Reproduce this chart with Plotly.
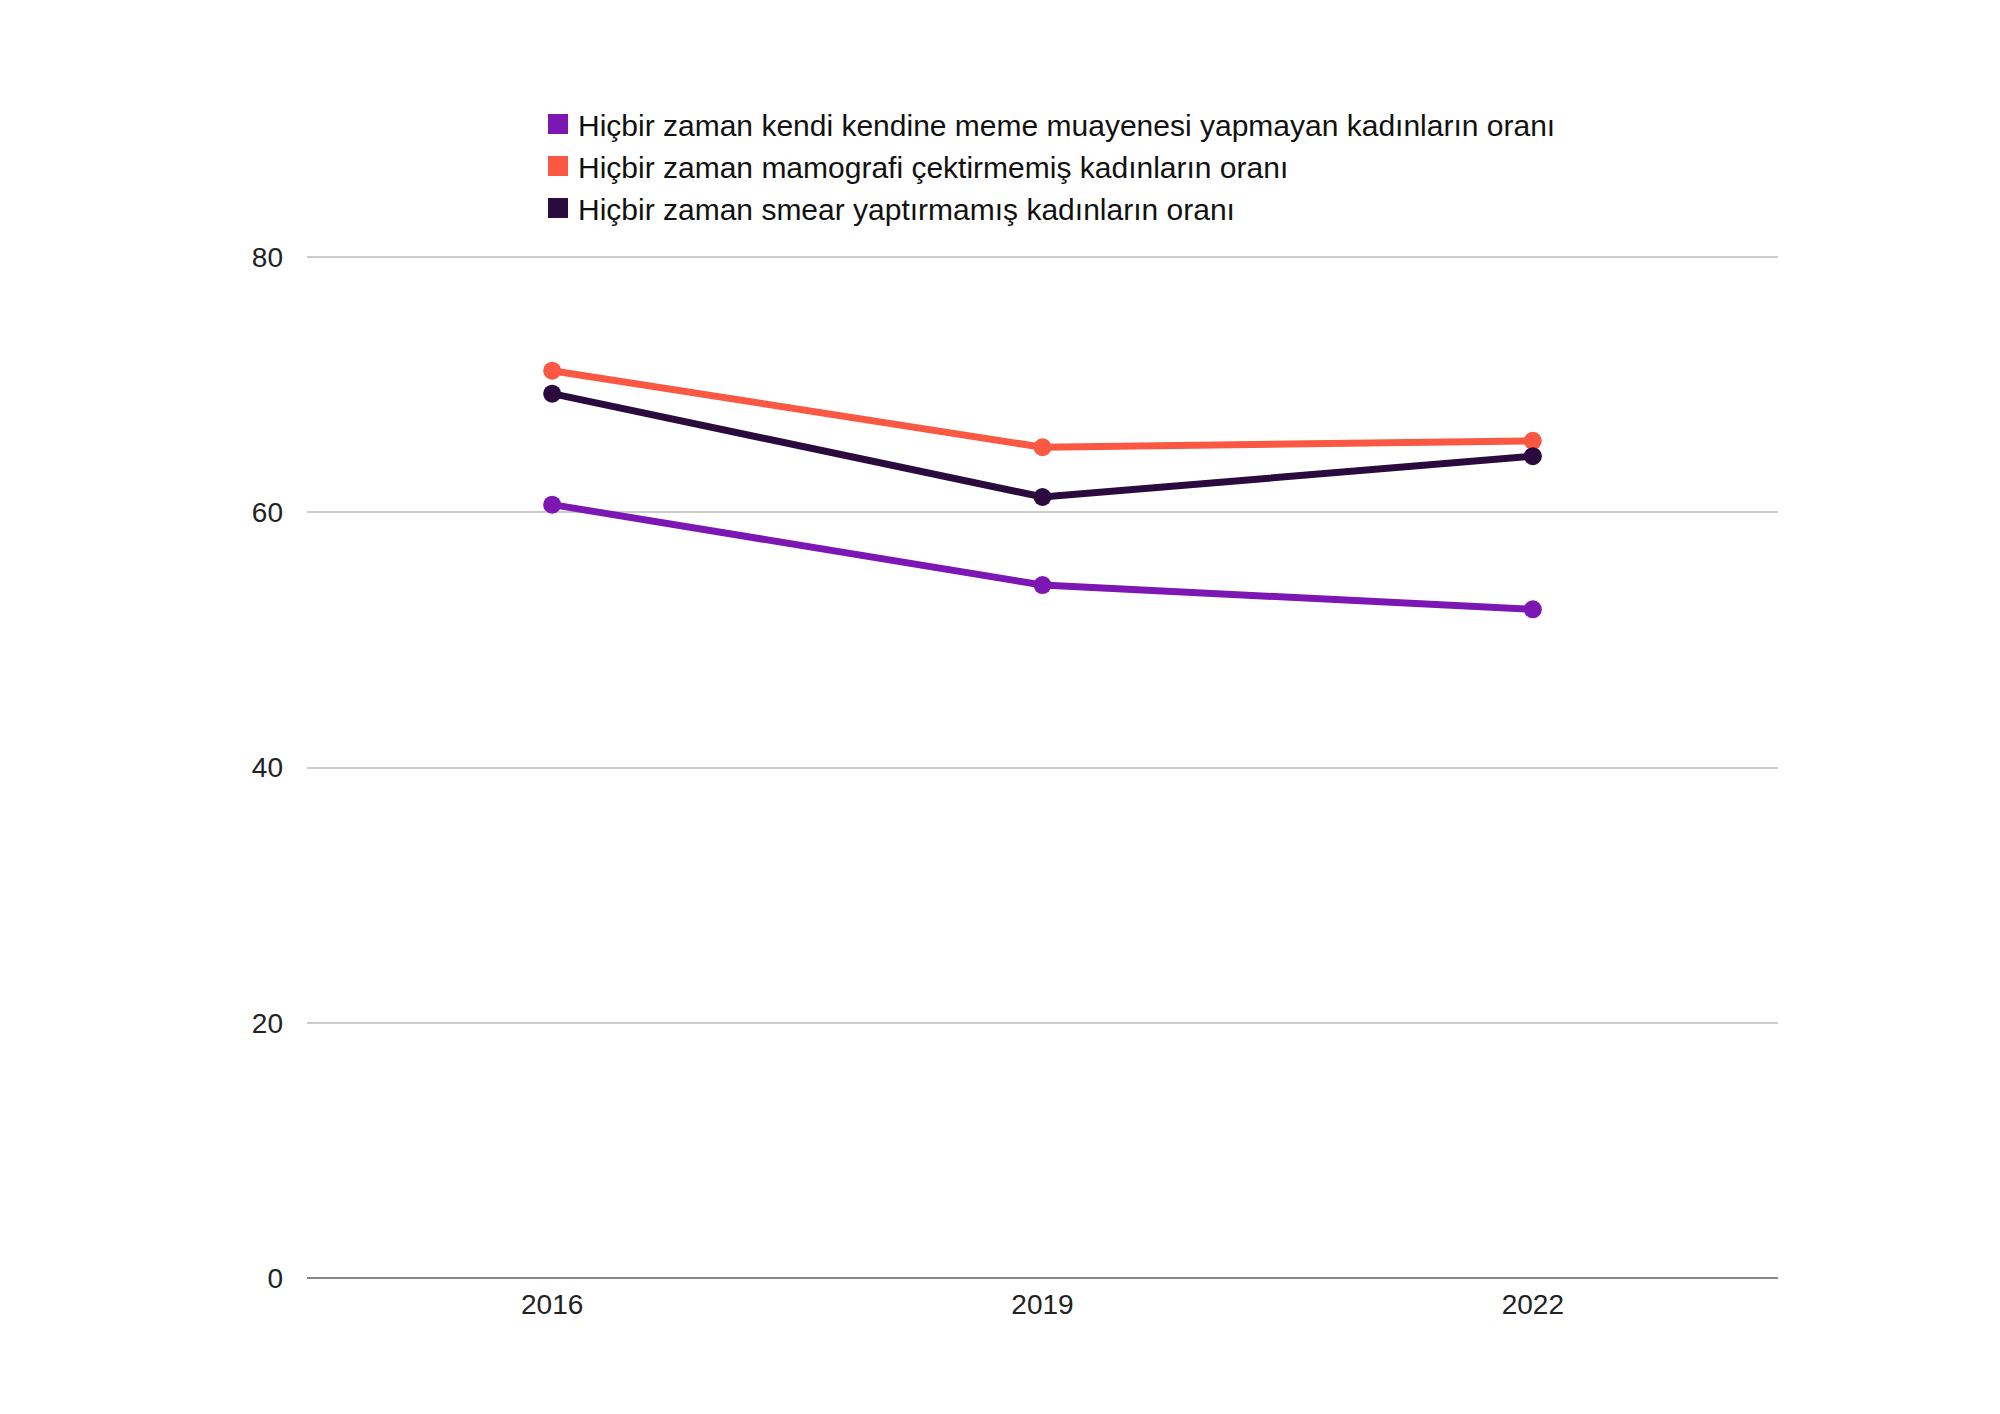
import plotly.graph_objects as go

years = ["2016", "2019", "2022"]
series_names = [
    "Hiçbir zaman kendi kendine meme muayenesi yapmayan kadınların oranı",
    "Hiçbir zaman mamografi çektirmemiş kadınların oranı",
    "Hiçbir zaman smear yaptırmamış kadınların oranı",
]
meme = [60.6, 54.3, 52.4]
mamografi = [71.1, 65.1, 65.6]
smear = [69.3, 61.2, 64.4]
colors = ["#7D17B3", "#FB5843", "#2B0A3D"]
values = [meme, mamografi, smear]

fig = go.Figure()
for name, vals, col in zip(series_names, values, colors):
    fig.add_trace(go.Scatter(
        x=years, y=vals, mode="lines+markers", name=name,
        line=dict(color=col, width=7),
        marker=dict(color=col, size=18),
        showlegend=False,
    ))
for name, col in zip(series_names, colors):
    fig.add_trace(go.Scatter(
        x=[None], y=[None], mode="markers", name=name,
        marker=dict(color=col, size=22, symbol="square",
                    line=dict(color=col, width=4)),
        showlegend=True,
    ))

L, T, R, B = 299, 244, 230, 144
PW = 2000 - L - R
PH = 1414 - T - B

fig.update_layout(
    width=2000, height=1414,
    margin=dict(l=L, r=R, t=T, b=B),
    plot_bgcolor="white", paper_bgcolor="white",
    font=dict(family="Liberation Sans, Arial, sans-serif", size=28, color="#222222"),
    legend=dict(
        x=(530 - L) / PW, xanchor="left",
        y=(1414 - B - 90) / PH, yanchor="top",
        font=dict(size=30, color="#111111"),
        itemsizing="trace",
        bgcolor="rgba(0,0,0,0)",
        tracegroupgap=0,
    ),
    xaxis=dict(
        type="category", range=[-0.5, 2.5],
        showgrid=False, showline=False, zeroline=False,
        ticks="", ticklabelstandoff=7,
        tickfont=dict(size=28, color="#222222"),
    ),
    yaxis=dict(
        range=[0, 80.4], tickvals=[0, 20, 40, 60, 80],
        showgrid=True, gridcolor="#cccccc", gridwidth=2,
        zeroline=True, zerolinecolor="#888888", zerolinewidth=2,
        showline=False, ticks="", ticklabelstandoff=23,
        tickfont=dict(size=28, color="#222222"),
    ),
)

fig.write_html("out.html")
